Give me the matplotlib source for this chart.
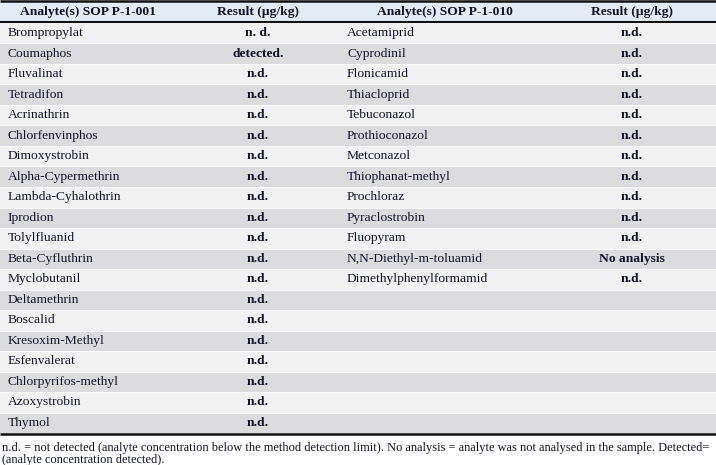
import matplotlib
matplotlib.use("Agg")
import matplotlib.pyplot as plt
from matplotlib.patches import Rectangle

headers = ["Analyte(s) SOP P-1-001", "Result (µg/kg)", "Analyte(s) SOP P-1-010", "Result (µg/kg)"]
analytes1 = ["Brompropylat", "Coumaphos", "Fluvalinat", "Tetradifon", "Acrinathrin",
             "Chlorfenvinphos", "Dimoxystrobin", "Alpha-Cypermethrin", "Lambda-Cyhalothrin",
             "Iprodion", "Tolylfluanid", "Beta-Cyfluthrin", "Myclobutanil", "Deltamethrin",
             "Boscalid", "Kresoxim-Methyl", "Esfenvalerat", "Chlorpyrifos-methyl",
             "Azoxystrobin", "Thymol"]
results1 = ["n. d.", "detected."] + ["n.d."] * 18
analytes2 = ["Acetamiprid", "Cyprodinil", "Flonicamid", "Thiacloprid", "Tebuconazol",
             "Prothioconazol", "Metconazol", "Thiophanat-methyl", "Prochloraz",
             "Pyraclostrobin", "Fluopyram", "N,N-Diethyl-m-toluamid",
             "Dimethylphenylformamid"]
results2 = ["n.d."] * 11 + ["No analysis", "n.d."]
footnote = ["n.d. = not detected (analyte concentration below the method detection limit). "
            "No analysis = analyte was not analysed in the sample. Detected=",
            "(analyte concentration detected)."]

W, H = 716, 465
fig = plt.figure(figsize=(W / 100, H / 100), dpi=100)
ax = fig.add_axes([0, 0, 1, 1])
ax.set_xlim(0, W)
ax.set_ylim(H, 0)
ax.axis("off")

FONT = "Liberation Serif"
TXT = "#12122c"
FS = 9.7
row_top = 23.0
row_h = 20.5
n_rows = len(analytes1)

# header
ax.add_patch(Rectangle((0, 2), W, 20, facecolor="#e3ebf7", edgecolor="none"))
for i in range(n_rows):
    y0 = row_top + i * row_h
    col = "#f2f2f2" if i % 2 == 0 else "#dcdcde"
    ax.add_patch(Rectangle((0, y0), W, row_h, facecolor=col, edgecolor="none"))
    ax.plot([0, W], [y0, y0], color="white", lw=0.6)

ax.plot([0, W], [1.2, 1.2], color="#111111", lw=1.8, solid_capstyle="butt")
ax.plot([0, W], [22.3, 22.3], color="#111111", lw=1.5, solid_capstyle="butt")
bot = row_top + n_rows * row_h
ax.plot([0, W], [bot + 1, bot + 1], color="#111111", lw=1.8, solid_capstyle="butt")

hx = [88, 258, 445, 632]
for x, h in zip(hx, headers):
    ax.text(x, 12, h, ha="center", va="center", fontsize=FS, fontweight="bold",
            family=FONT, color=TXT)

for i, (a, r) in enumerate(zip(analytes1, results1)):
    yc = row_top + (i + 0.5) * row_h
    ax.text(8, yc, a, ha="left", va="center", fontsize=FS, family=FONT, color=TXT)
    ax.text(258, yc, r, ha="center", va="center", fontsize=FS, fontweight="bold",
            family=FONT, color=TXT)
for i, (a, r) in enumerate(zip(analytes2, results2)):
    yc = row_top + (i + 0.5) * row_h
    ax.text(347, yc, a, ha="left", va="center", fontsize=FS, family=FONT, color=TXT)
    ax.text(632, yc, r, ha="center", va="center", fontsize=FS, fontweight="bold",
            family=FONT, color=TXT)

for k, line in enumerate(footnote):
    ax.text(2, 447.5 + 12 * k, line, ha="left", va="center", fontsize=8.95,
            family=FONT, color=TXT)

fig.savefig("out.png", dpi=100)
